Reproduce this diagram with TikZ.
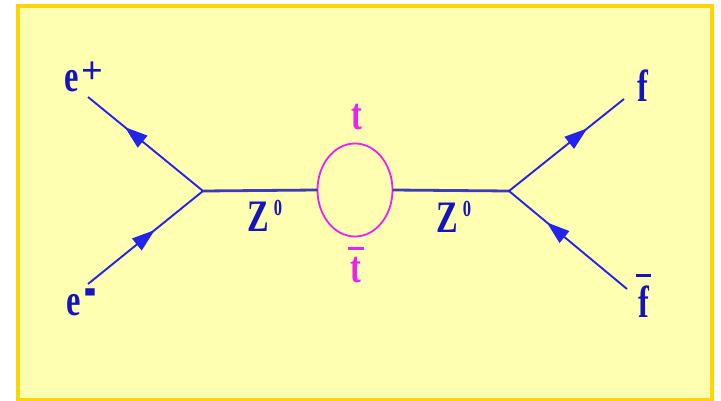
\documentclass[tikz,border=0pt]{standalone}
\usepackage{fontspec}
\setmainfont{Liberation Serif}
\usepackage{graphicx}
\usetikzlibrary{arrows.meta,shapes.geometric,decorations.markings}

\definecolor{lineblue}{RGB}{35,35,235}
\definecolor{textblue}{RGB}{20,20,195}
\definecolor{bosonblue}{RGB}{60,60,185}
\definecolor{loopmag}{RGB}{240,30,240}
\definecolor{paper}{RGB}{255,255,178}
\definecolor{framegold}{RGB}{255,212,0}

\newcommand{\squeeze}[1]{\scalebox{0.72}[1]{#1}}
\newcommand{\barred}[1]{\setbox0\hbox{#1}%
  \vbox{\hbox{\kern-2.5pt\vrule height 3pt depth 0pt width \dimexpr\wd0+5pt\relax\kern-2.5pt}%
  \nointerlineskip\vskip 8pt\box0}}

\begin{document}
\begin{tikzpicture}[x=1pt,y=-1pt,
  lbl/.style={font={\fontsize{45}{47}\selectfont\bfseries},text=textblue,inner sep=0pt},
  fermion/.style={lineblue,line width=1.9pt,postaction={decorate},
    decoration={markings,mark=at position #1 with {\arrow{Triangle[length=23pt,width=15pt]}}}},
  boson/.style={bosonblue,line width=2.8pt}]
  \useasboundingbox (0,0) rectangle (721,401);
  \fill[white] (0,0) rectangle (721,401);
  \draw[framegold,line width=4pt,fill=paper] (18,6.5) rectangle (712,400);

  \coordinate (vl) at (203,191);
  \coordinate (vr) at (509,191);
  \coordinate (ep) at (88,97);
  \coordinate (em) at (88,284);
  \coordinate (fo) at (624,99);
  \coordinate (fb) at (627,289);
  \node[ellipse,draw=loopmag,line width=1.8pt,minimum width=75pt,minimum height=93pt,
    inner sep=0pt,outer sep=0pt] (loop) at (355,190) {};

  \draw[fermion=0.68] (vl) -- (ep);
  \draw[fermion=0.58] (em) -- (vl);
  \draw[boson] (vl) -- (loop.west);
  \draw[boson] (loop.east) -- (vr);
  \draw[fermion=0.68] (vr) -- (fo);
  \draw[fermion=0.68] (fb) -- (vr);

  \node[lbl,anchor=base west] (eplus) at (64,92)
    {\squeeze{e}\kern3pt\raisebox{8pt}{\scalebox{0.85}{+}}};
  \node[lbl,anchor=base west] (eminus) at (66,315)
    {\squeeze{e}\kern4pt\raisebox{2pt}{\scalebox{0.8}[1.9]{-}}};
  \node[lbl,anchor=base west] (zleft) at (247,232)
    {\squeeze{Z}\kern5pt\raisebox{16pt}{\squeeze{\fontsize{23}{24}\selectfont 0}}};
  \node[lbl,anchor=base west] (zright) at (436,233)
    {\squeeze{Z}\kern5pt\raisebox{16pt}{\squeeze{\fontsize{23}{24}\selectfont 0}}};
  \node[lbl,text=loopmag,anchor=base] (ttop) at (357,130) {\squeeze{t}};
  \node[lbl,text=loopmag,anchor=base] (tbot) at (356,283) {\barred{\squeeze{t}}};
  \node[lbl,anchor=base west] (fout) at (637,102) {\squeeze{f}};
  \node[lbl,anchor=base west] (fbar) at (638,317) {\barred{\squeeze{f}}};
\end{tikzpicture}
\end{document}
